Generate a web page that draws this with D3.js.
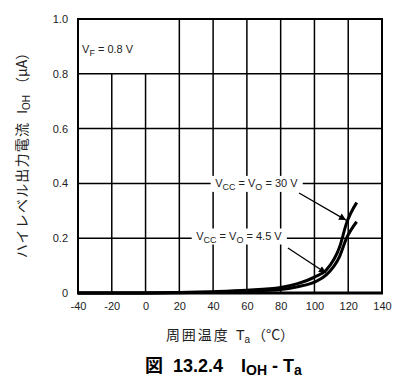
<!DOCTYPE html>
<html><head><meta charset="utf-8">
<script src="https://cdn.jsdelivr.net/npm/d3@7"></script>
<style>
body{margin:0;background:#fff;}
svg{display:block;}
text{font-family:"Liberation Sans",Arial,sans-serif;}
.cjk{font-family:"Noto Sans CJK JP","Liberation Sans",sans-serif;}
</style></head>
<body><svg id="c" width="404" height="387"></svg>
<script>
// ---- data ----
const xTicks = [-40, -20, 0, 20, 40, 60, 80, 100, 120, 140];
const xTickLabels = ["-40", "-20", "0", "20", "40", "60", "80", "100", "120", "140"];
const yTicks = [0, 0.2, 0.4, 0.6, 0.8, 1.0];
const yTickLabels = ["0", "0.2", "0.4", "0.6", "0.8", "1.0"];
const temp30 = [-40, 0, 20, 40, 60, 80, 90, 100, 107, 115, 119, 125];
const ioh30  = [0, 0, 0.002, 0.005, 0.01, 0.02, 0.034, 0.058, 0.084, 0.17, 0.255, 0.33];
const temp45 = [-40, 0, 20, 40, 60, 80, 90, 100, 107, 115, 119, 125];
const ioh45  = [0, 0, 0.001, 0.003, 0.007, 0.013, 0.023, 0.04, 0.066, 0.135, 0.2, 0.26];
const seriesLabels = ["30 V", "4.5 V"];
// annotation anchors in data units: [labelT, labelI, arrowFromT, arrowFromI, arrowToT, arrowToI]
const annot30 = [65.6, 0.4, 90.9, 0.365, 118.7, 0.266];
const annot45 = [55.3, 0.208, 84.3, 0.164, 106.8, 0.073];

const svg = d3.select("#c");
const x = d3.scaleLinear().domain([-40, 140]).range([78, 382]);
const y = d3.scaleLinear().domain([0, 1]).range([293, 19]);

// grid
const g = svg.append("g");
yTicks.filter(v => v > 0 && v < 1).forEach(v => {
  g.append("line").attr("x1", x(-40)).attr("x2", x(140)).attr("y1", y(v)).attr("y2", y(v))
   .attr("stroke", "#000").attr("stroke-width", 1.5);
});
xTicks.filter(v => v > -40 && v < 140).forEach(v => {
  const top = v < 20 ? 0.8 : 1.0;
  g.append("line").attr("x1", x(v)).attr("x2", x(v)).attr("y1", y(0)).attr("y2", y(top))
   .attr("stroke", "#000").attr("stroke-width", 1.5);
});

// axes with D3
const xAxis = d3.axisBottom(x).tickValues(xTicks).tickSize(0).tickPadding(9).tickFormat((d, i) => xTickLabels[i]);
const yAxis = d3.axisLeft(y).tickValues(yTicks).tickSize(0).tickPadding(10).tickFormat((d, i) => yTickLabels[i]);
const gx = svg.append("g").attr("transform", `translate(0,${y(0)})`).call(xAxis);
const gy = svg.append("g").attr("transform", `translate(${x(-40)},0)`).call(yAxis);
[gx, gy].forEach(a => {
  a.select(".domain").remove();
  a.selectAll("text").attr("font-family", "Liberation Sans, Arial, sans-serif").attr("font-size", 11).attr("fill", "#222");
});

// frame
svg.append("rect").attr("x", x(-40)).attr("y", y(1)).attr("width", x(140) - x(-40)).attr("height", y(0) - y(1))
  .attr("fill", "none").attr("stroke", "#000").attr("stroke-width", 2);
svg.append("line").attr("x1", x(-40) - 1).attr("x2", x(140) + 1).attr("y1", y(0)).attr("y2", y(0))
  .attr("stroke", "#000").attr("stroke-width", 3);

// VF label
const vf = svg.append("text").attr("x", x(-37.6)).attr("y", y(0.876)).attr("font-size", 11).attr("fill", "#222");
vf.append("tspan").text("V");
vf.append("tspan").attr("font-size", 9).attr("dy", 3).text("F");
vf.append("tspan").attr("dy", -3).text(" = 0.8 V");

// curves
const line = d3.line().x(d => x(d[0])).y(d => y(d[1])).curve(d3.curveMonotoneX);
[[temp30, ioh30], [temp45, ioh45]].forEach(([t, v]) => {
  svg.append("path").datum(t.map((tt, i) => [tt, v[i]])).attr("d", line)
    .attr("fill", "none").attr("stroke", "#000").attr("stroke-width", 3).attr("stroke-linecap", "butt");
});

// arrow marker
svg.append("defs").append("marker").attr("id", "ah").attr("viewBox", "0 0 10 10").attr("refX", 10).attr("refY", 5)
  .attr("markerWidth", 9).attr("markerHeight", 7).attr("markerUnits", "userSpaceOnUse").attr("orient", "auto")
  .append("path").attr("d", "M0,0 L10,5 L0,10 z").attr("fill", "#000");

// annotations
[[annot30, seriesLabels[0]], [annot45, seriesLabels[1]]].forEach(([a, lab]) => {
  const grp = svg.append("g");
  const t = grp.append("text").attr("x", x(a[0])).attr("y", y(a[1]) + 4).attr("text-anchor", "middle")
    .attr("font-size", 11).attr("fill", "#222");
  t.append("tspan").text("V");
  t.append("tspan").attr("font-size", 9).attr("dy", 3).text("CC");
  t.append("tspan").attr("dy", -3).text(" = V");
  t.append("tspan").attr("font-size", 9).attr("dy", 3).text("O");
  t.append("tspan").attr("dy", -3).text(" = " + lab);
  const bb = t.node().getBBox();
  grp.insert("rect", "text").attr("x", bb.x - 4.5).attr("y", y(a[1]) - 7.5).attr("width", bb.width + 9).attr("height", 16)
    .attr("fill", "#fff");
  svg.append("line").attr("x1", x(a[2])).attr("y1", y(a[3])).attr("x2", x(a[4])).attr("y2", y(a[5]))
    .attr("stroke", "#000").attr("stroke-width", 1.3).attr("marker-end", "url(#ah)");
});

// axis titles
const xt = svg.append("text").attr("x", (x(-40) + x(140)) / 2).attr("y", 340).attr("text-anchor", "middle")
  .attr("font-size", 14).attr("fill", "#222");
xt.append("tspan").attr("class", "cjk").attr("letter-spacing", 2).text("周囲温度");
xt.append("tspan").attr("dx", 6).text("T");
xt.append("tspan").attr("font-size", 10).attr("dy", 3).text("a");
xt.append("tspan").attr("class", "cjk").attr("dy", -3).attr("dx", 2).text("（°C）");

const yt = svg.append("text").attr("transform", `translate(27,${(y(0) + y(1)) / 2 - 4}) rotate(-90)`)
  .attr("text-anchor", "middle").attr("font-size", 14).attr("fill", "#222");
yt.append("tspan").attr("class", "cjk").attr("letter-spacing", 1.2).text("ハイレベル出力電流");
yt.append("tspan").attr("dx", 8).text("I");
yt.append("tspan").attr("font-size", 10).attr("dy", 3).text("OH");
yt.append("tspan").attr("class", "cjk").attr("dy", -3).attr("dx", 4).text("（µA）");

// figure title
const tt = svg.append("text").attr("x", 145).attr("y", 372).attr("font-size", 18).attr("font-weight", "bold").attr("fill", "#000");
tt.append("tspan").attr("class", "cjk").text("図");
tt.append("tspan").attr("dx", 10).text("13.2.4");
tt.append("tspan").attr("dx", 18).text("I");
tt.append("tspan").attr("font-size", 14).attr("dy", 3).text("OH");
tt.append("tspan").attr("dy", -3).text(" - T");
tt.append("tspan").attr("font-size", 14).attr("dy", 3).text("a");
</script></body></html>
